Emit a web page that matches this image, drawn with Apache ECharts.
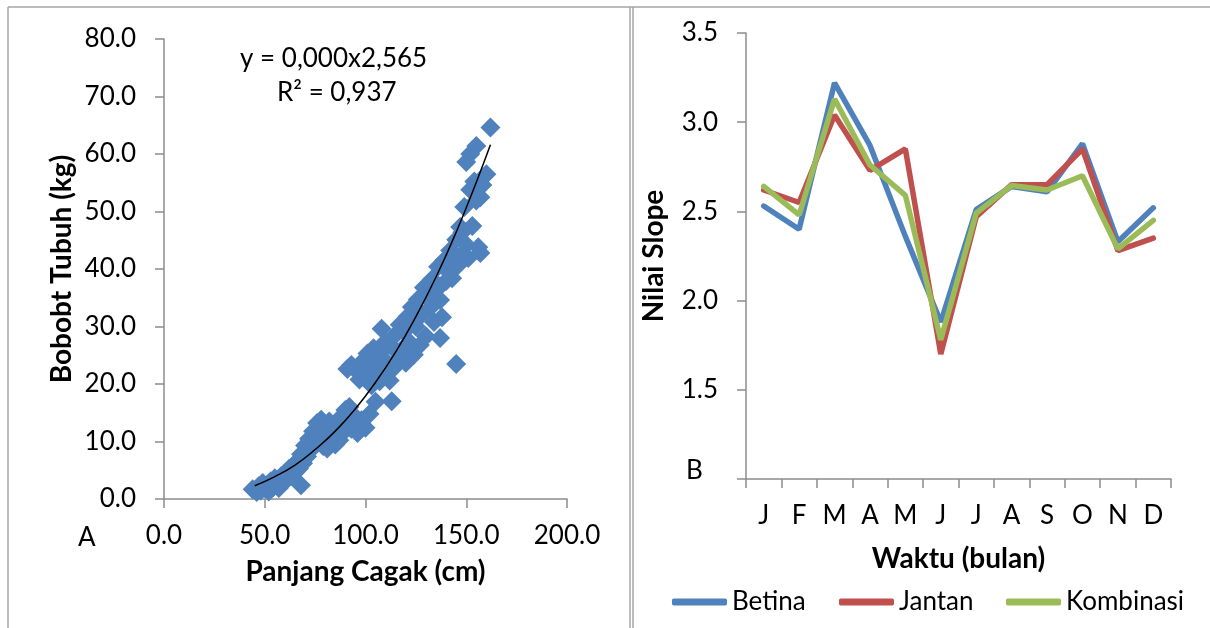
<!DOCTYPE html>
<html>
<head>
<meta charset="utf-8">
<script src="https://cdn.jsdelivr.net/npm/echarts@6/dist/echarts.min.js"></script>
<style>
html,body{margin:0;padding:0;background:#fff;}
#chart{width:1210px;height:628px;}
</style>
</head>
<body>
<div id="chart"></div>
<script>
// Panel A: panjang cagak (cm) vs bobot tubuh (kg)
const panjang = [44,46,47,48,49,50,51,52,53,54,55,56,57,58,59,60,61,62,63,64,65,66,67,68,68,69,70,71,72,73,74,75,76,77,78,79,80,81,82,83,84,85,86,87,88,89,90,91,91,92,93,93,94,95,96,97,98,99,100,100,101,102,102,103,104,105,105,106,107,108,108,109,110,111,112,113,113,114,115,116,117,118,119,120,121,122,123,124,125,126,127,128,129,130,131,132,133,134,135,136,137,137,138,139,140,141,142,143,144,145,145,146,147,148,148,149,150,150,151,152,152,153,154,155,155,156,157,157,158,160,162];
const bobot   = [1.7,1.2,2.2,1.5,2.8,1.9,2.4,1.3,3.1,2.0,3.6,2.6,1.9,3.9,2.9,4.5,3.4,5.2,4.0,5.8,4.6,6.5,5.3,2.4,7.8,6.2,9.3,7.4,10.5,8.6,11.8,9.7,13.2,11.0,13.8,9.2,12.4,8.8,13.5,10.6,11.9,9.5,12.8,10.2,14.3,11.6,15.5,13.1,22.6,16.0,12.2,23.3,14.6,22.5,11.5,20.8,13.7,24.1,12.4,21.6,25.3,14.8,23.0,19.8,26.2,16.9,22.4,24.7,20.5,29.6,25.8,22.1,27.4,23.6,20.6,17.0,26.5,22.8,28.6,24.2,30.3,26.0,29.1,23.7,31.8,27.2,33.4,25.1,30.0,34.7,26.8,32.1,36.8,28.3,35.0,33.2,38.2,30.8,36.3,40.4,28.0,34.6,31.6,41.5,37.9,39.6,43.2,38.4,41.8,23.5,45.1,40.7,47.3,42.6,46.4,50.8,44.2,58.6,41.9,53.8,60.0,47.5,55.2,51.9,61.4,43.8,42.8,52.5,54.6,56.5,64.6];

// power trend line y = 0,000x^2,565
const trendX = [45,55,65,75,85,95,105,115,125,135,145,155,162];
const trendY = [2.3,3.9,5.9,8.6,11.8,15.7,20.3,25.6,31.7,38.6,46.4,55.1,61.6];

// Panel B: nilai slope per bulan
const bulan = ['J','F','M','A','M','J','J','A','S','O','N','D'];
const betina    = [2.53,2.40,3.22,2.87,2.36,1.88,2.51,2.64,2.61,2.88,2.33,2.52];
const jantan    = [2.62,2.55,3.04,2.73,2.85,1.70,2.47,2.65,2.65,2.85,2.28,2.35];
const kombinasi = [2.64,2.48,3.13,2.76,2.59,1.78,2.49,2.645,2.62,2.70,2.29,2.45];

const FONT = 'Lato';
const axisGray = '#8c8c8c';

const chart = echarts.init(document.getElementById('chart'));

const axisCommon = {
  axisLine: { show: true, lineStyle: { color: axisGray, width: 1.5 } },
  axisTick: { show: true, length: 9, lineStyle: { color: axisGray, width: 1.5 } },
  splitLine: { show: false },
  nameTextStyle: { fontFamily: FONT, fontWeight: 'bold', fontSize: 28, color: '#000' }
};

const option = {
  backgroundColor: '#fff',
  animation: false,
  textStyle: { fontFamily: FONT },
  grid: [
    { left: 164, top: 39, width: 403, height: 460 },
    { left: 746, top: 33, width: 425, height: 446 }
  ],
  xAxis: [
    Object.assign({}, axisCommon, {
      gridIndex: 0, type: 'value', min: 0, max: 200, interval: 50,
      name: 'Panjang Cagak (cm)', nameLocation: 'middle', nameGap: 59,
      axisLabel: { margin: 24, fontSize: 26, color: '#000', fontFamily: FONT,
        formatter: v => v.toFixed(1) }
    }),
    Object.assign({}, axisCommon, {
      gridIndex: 1, type: 'category', data: bulan, boundaryGap: true,
      name: 'Waktu (bulan)', nameLocation: 'middle', nameGap: 66,
      axisLabel: { margin: 24, fontSize: 26, color: '#000', fontFamily: FONT, interval: 0 },
      axisTick: { show: true, length: 9, interval: 0, lineStyle: { color: axisGray, width: 1.5 } }
    })
  ],
  yAxis: [
    Object.assign({}, axisCommon, {
      gridIndex: 0, type: 'value', min: 0, max: 80, interval: 10,
      name: 'Bobobt Tubuh (kg)', nameLocation: 'middle', nameGap: 88,
      axisLabel: { margin: 28, fontSize: 26, color: '#000', fontFamily: FONT,
        formatter: v => v.toFixed(1) }
    }),
    Object.assign({}, axisCommon, {
      gridIndex: 1, type: 'value', min: 1, max: 3.5, interval: 0.5,
      name: 'Nilai Slope', nameLocation: 'middle', nameGap: 78,
      axisLabel: { margin: 28, fontSize: 26, color: '#000', fontFamily: FONT,
        formatter: v => (v === 1 ? '' : v.toFixed(1)) }
    })
  ],
  legend: [
    { data: ['Betina'], left: 667, top: 584 },
    { data: ['Jantan'], left: 834, top: 584 },
    { data: ['Kombinasi'], left: 1001, top: 584 }
  ].map(l => Object.assign(l, {
    icon: 'roundRect', itemWidth: 55, itemHeight: 7,
    textStyle: { fontFamily: FONT, fontSize: 26, color: '#000' }
  })),
  graphic: [
    { type: 'line', shape: { x1: 8, y1: 7, x2: 1210, y2: 7 }, style: { stroke: '#a6a6a6', lineWidth: 1.5 } },
    { type: 'line', shape: { x1: 8, y1: 7, x2: 8, y2: 628 }, style: { stroke: '#a6a6a6', lineWidth: 1.5 } },
    { type: 'line', shape: { x1: 630, y1: 7, x2: 630, y2: 628 }, style: { stroke: '#a6a6a6', lineWidth: 1.5 } },
    { type: 'line', shape: { x1: 633, y1: 7, x2: 633, y2: 628 }, style: { stroke: '#a6a6a6', lineWidth: 1.5 } },
    { type: 'text', left: 240, top: 46, style: { text: 'y = 0,000x2,565', font: '26px Lato', fill: '#000' } },
    { type: 'text', left: 277, top: 80, style: { text: 'R² = 0,937', font: '26px Lato', fill: '#000' } },
    { type: 'text', left: 78, top: 525, style: { text: 'A', font: '26px Lato', fill: '#000' } },
    { type: 'text', left: 686, top: 458, style: { text: 'B', font: '26px Lato', fill: '#000' } }
  ],
  series: [
    {
      type: 'scatter', xAxisIndex: 0, yAxisIndex: 0,
      symbol: 'diamond', symbolSize: 20,
      itemStyle: { color: '#4F81BD', opacity: 1 },
      data: panjang.map((x, i) => [x, bobot[i]])
    },
    {
      type: 'line', xAxisIndex: 0, yAxisIndex: 0, smooth: true,
      showSymbol: false, symbol: 'none', z: 5,
      lineStyle: { color: '#000', width: 1.5 },
      data: trendX.map((x, i) => [x, trendY[i]])
    },
    {
      name: 'Betina', type: 'line', xAxisIndex: 1, yAxisIndex: 1, symbol: 'none',
      color: '#4F81BD', lineStyle: { width: 5.5, cap: 'round' }, data: betina
    },
    {
      name: 'Jantan', type: 'line', xAxisIndex: 1, yAxisIndex: 1, symbol: 'none',
      color: '#C0504D', lineStyle: { width: 5.5, cap: 'round' }, data: jantan
    },
    {
      name: 'Kombinasi', type: 'line', xAxisIndex: 1, yAxisIndex: 1, symbol: 'none',
      color: '#9BBB59', lineStyle: { width: 5.5, cap: 'round' }, data: kombinasi
    }
  ]
};

chart.setOption(option);
</script>
</body>
</html>
